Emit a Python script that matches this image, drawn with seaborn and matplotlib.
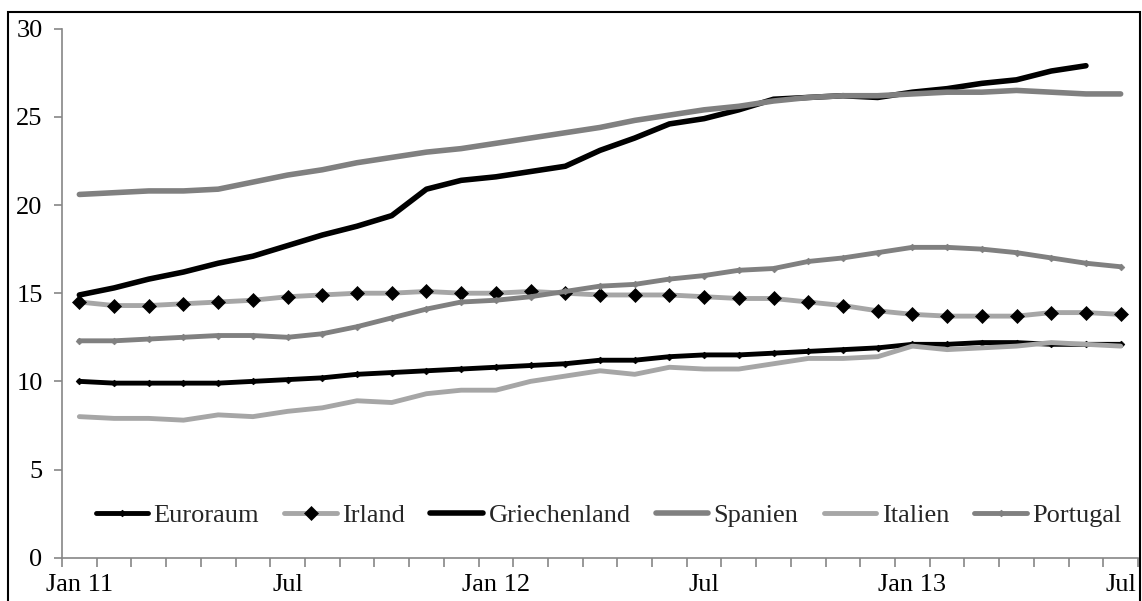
import matplotlib
matplotlib.use("Agg")
import matplotlib.pyplot as plt
import seaborn as sns
import numpy as np
import pandas as pd
from matplotlib.patches import Rectangle

# ---- data ----
months = list(range(31))  # Jan 2011 .. Jul 2013
tick_pos = [0, 6, 12, 18, 24, 30]
tick_labels = ["Jan 11", "Jul", "Jan 12", "Jul", "Jan 13", "Jul"]

euroraum = [10.0, 9.9, 9.9, 9.9, 9.9, 10.0, 10.1, 10.2, 10.4, 10.5, 10.6, 10.7, 10.8, 10.9, 11.0, 11.2,
            11.2, 11.4, 11.5, 11.5, 11.6, 11.7, 11.8, 11.9, 12.1, 12.1, 12.2, 12.2, 12.1, 12.1, 12.1]
irland = [14.5, 14.3, 14.3, 14.4, 14.5, 14.6, 14.8, 14.9, 15.0, 15.0, 15.1, 15.0, 15.0, 15.1, 15.0, 14.9,
          14.9, 14.9, 14.8, 14.7, 14.7, 14.5, 14.3, 14.0, 13.8, 13.7, 13.7, 13.7, 13.9, 13.9, 13.8]
griechenland = [14.9, 15.3, 15.8, 16.2, 16.7, 17.1, 17.7, 18.3, 18.8, 19.4, 20.9, 21.4, 21.6, 21.9, 22.2,
                23.1, 23.8, 24.6, 24.9, 25.4, 26.0, 26.1, 26.2, 26.1, 26.4, 26.6, 26.9, 27.1, 27.6, 27.9]
spanien = [20.6, 20.7, 20.8, 20.8, 20.9, 21.3, 21.7, 22.0, 22.4, 22.7, 23.0, 23.2, 23.5, 23.8, 24.1, 24.4,
           24.8, 25.1, 25.4, 25.6, 25.9, 26.1, 26.2, 26.2, 26.3, 26.4, 26.4, 26.5, 26.4, 26.3, 26.3]
italien = [8.0, 7.9, 7.9, 7.8, 8.1, 8.0, 8.3, 8.5, 8.9, 8.8, 9.3, 9.5, 9.5, 10.0, 10.3, 10.6, 10.4, 10.8,
           10.7, 10.7, 11.0, 11.3, 11.3, 11.4, 12.0, 11.8, 11.9, 12.0, 12.2, 12.1, 12.0]
portugal = [12.3, 12.3, 12.4, 12.5, 12.6, 12.6, 12.5, 12.7, 13.1, 13.6, 14.1, 14.5, 14.6, 14.8, 15.1, 15.4,
            15.5, 15.8, 16.0, 16.3, 16.4, 16.8, 17.0, 17.3, 17.6, 17.6, 17.5, 17.3, 17.0, 16.7, 16.5]

series_names = ["Euroraum", "Irland", "Griechenland", "Spanien", "Italien", "Portugal"]
series_values = [euroraum, irland, griechenland, spanien, italien, portugal]

sns.set_theme(style="white")
plt.rcParams["font.family"] = ["Liberation Serif", "DejaVu Serif"]

fig = plt.figure(figsize=(11.42, 6.01), dpi=100)
ax = fig.add_axes([62 / 1142, 1 - 557.7 / 601, (1138 - 62) / 1142, (557.7 - 28.7) / 601])

styles = {
    "Euroraum": dict(color="black", lw=3.5, marker="D", ms=3.4, mfc="black", mec="black"),
    "Irland": dict(color="#A6A6A6", lw=3.5, marker="D", ms=6.8, mfc="black", mec="black"),
    "Griechenland": dict(color="black", lw=4.0, marker=None),
    "Spanien": dict(color="#808080", lw=4.0, marker=None),
    "Italien": dict(color="#A6A6A6", lw=3.5, marker=None),
    "Portugal": dict(color="#808080", lw=3.5, marker="D", ms=3.4, mfc="#808080", mec="#808080"),
}

for name, vals in zip(series_names, series_values):
    df = pd.DataFrame({"x": months[:len(vals)], "y": vals})
    st = styles[name]
    kw = dict(color=st["color"], linewidth=st["lw"], solid_capstyle="round", solid_joinstyle="round")
    if st["marker"]:
        kw.update(marker=st["marker"], markersize=st["ms"], markerfacecolor=st["mfc"],
                  markeredgecolor=st["mec"], markeredgewidth=0.5)
    sns.lineplot(data=df, x="x", y="y", ax=ax, label=name, **kw)

ax.set_xlim(-0.5, 30.5)
ax.set_ylim(0, 30)
ax.set_yticks([0, 5, 10, 15, 20, 25, 30])
ax.set_xticks(tick_pos)
ax.set_xticklabels(tick_labels)
ax.set_xticks(np.arange(-0.5, 31, 1), minor=True)
ax.set_xlabel("")
ax.set_ylabel("")

for side in ["top", "right"]:
    ax.spines[side].set_visible(False)
for side in ["left", "bottom"]:
    ax.spines[side].set_color("#868686")
    ax.spines[side].set_linewidth(1.2)

ax.tick_params(axis="y", which="major", direction="out", length=6, width=1.2, color="#868686",
               labelsize=19, pad=8, left=True, labelcolor="black")
ax.tick_params(axis="x", which="major", length=0, labelsize=19, pad=12, labelcolor="black")
ax.tick_params(axis="x", which="minor", direction="out", length=6.5, width=1.2, color="#868686", bottom=True)

leg = ax.legend(loc="center", bbox_to_anchor=(0.508, 0.08), bbox_transform=ax.transAxes,
                ncol=6, frameon=False, fontsize=19, handlelength=2.0, handletextpad=0.2,
                columnspacing=0.95, borderaxespad=0)

fig.add_artist(Rectangle((8 / 1142, -0.05), (1140 - 8) / 1142, 1 - 12 / 601 + 0.05,
                         transform=fig.transFigure, fill=False, edgecolor="black", lw=1.5, clip_on=False))

fig.savefig("out.png", dpi=100)
